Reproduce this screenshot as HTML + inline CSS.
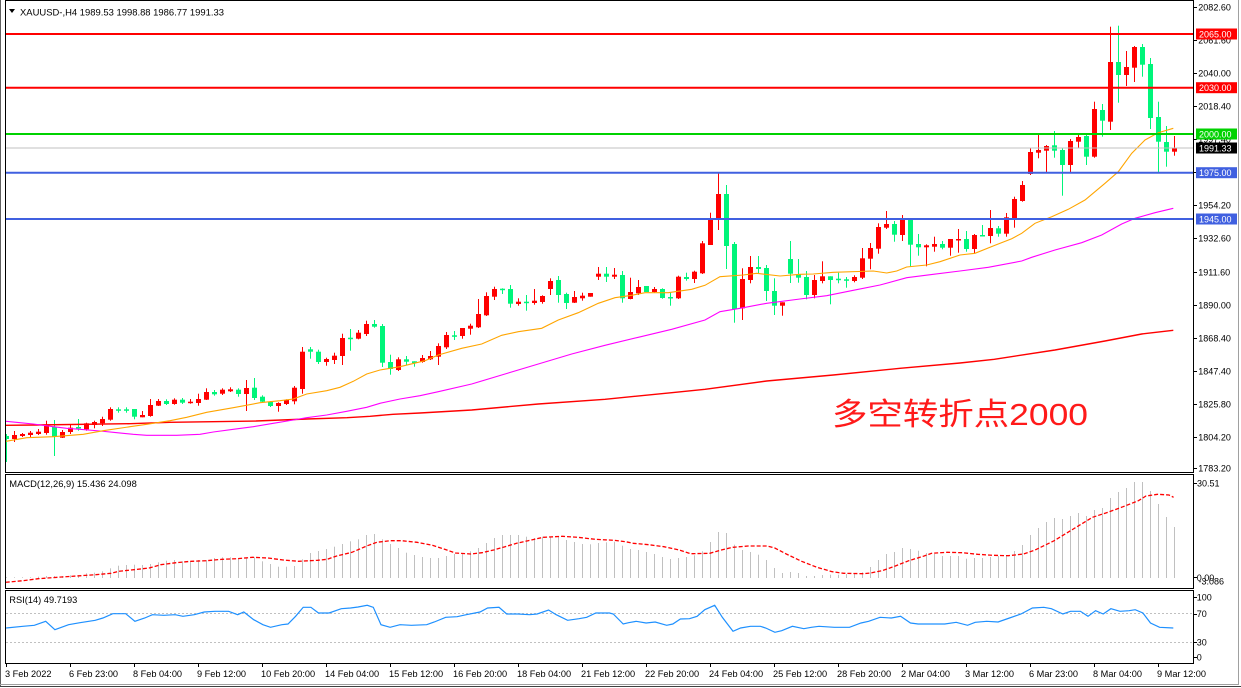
<!DOCTYPE html>
<html><head><meta charset="utf-8">
<style>
html,body{margin:0;padding:0;background:#fff;width:1241px;height:688px;overflow:hidden}
svg{position:absolute;left:0;top:0}
text{font-family:"Liberation Sans","Noto Sans CJK SC",sans-serif}
</style></head>
<body>
<svg id="s" width="1241" height="688" viewBox="0 0 1241 688" xmlns="http://www.w3.org/2000/svg">
<defs>
<clipPath id="cm"><rect x="6" y="1" width="1187" height="471"/></clipPath>
<clipPath id="cmacd"><rect x="6" y="475" width="1187" height="113"/></clipPath>
<clipPath id="crsi"><rect x="6" y="591" width="1187" height="72"/></clipPath>
</defs>
<rect x="0" y="0" width="1241" height="688" fill="#fff"/>
<!-- outer frame -->
<line x1="0.5" y1="0" x2="0.5" y2="686" stroke="#606060"/>
<line x1="1238.5" y1="0" x2="1238.5" y2="685" stroke="#a0a0a0"/>
<line x1="0" y1="684.5" x2="1239" y2="684.5" stroke="#a0a0a0"/>
<line x1="0" y1="686.5" x2="1241" y2="686.5" stroke="#404040"/>

<!-- RSI grid -->
<line x1="6" y1="613.5" x2="1193" y2="613.5" stroke="#c0c0c0" stroke-dasharray="2 2"/>
<line x1="6" y1="642.5" x2="1193" y2="642.5" stroke="#c0c0c0" stroke-dasharray="2 2"/>

<g id="dyn"></g>

<!-- horizontal levels -->
<g clip-path="url(#cm)">
<line x1="5" y1="148" x2="1193" y2="148" stroke="#c0c0c0" stroke-width="1"/>
<line x1="5" y1="34" x2="1193" y2="34" stroke="#ff0000" stroke-width="2"/>
<line x1="5" y1="87.7" x2="1193" y2="87.7" stroke="#ff0000" stroke-width="2"/>
<line x1="5" y1="134" x2="1193" y2="134" stroke="#00d200" stroke-width="2"/>
<line x1="5" y1="172.7" x2="1193" y2="172.7" stroke="#4060e0" stroke-width="2"/>
<line x1="5" y1="219" x2="1193" y2="219" stroke="#4060e0" stroke-width="2"/>
</g>

<!-- panels -->
<rect x="5.5" y="0.5" width="1188" height="472" fill="none" stroke="#000"/>
<rect x="5.5" y="474.5" width="1188" height="114" fill="none" stroke="#000"/>
<rect x="5.5" y="590.5" width="1188" height="73" fill="none" stroke="#000"/>

<!-- header -->
<polygon points="9,9 15,9 12,13" fill="#000"/>
<text x="20" y="15.5" font-size="9.3" textLength="204" lengthAdjust="spacingAndGlyphs">XAUUSD-,H4  1989.53 1998.88 1986.77 1991.33</text>
<text x="9.3" y="487" font-size="9.3" textLength="127.5" lengthAdjust="spacingAndGlyphs">MACD(12,26,9) 15.436 24.098</text>
<text x="9.3" y="603" font-size="9.3" textLength="68" lengthAdjust="spacingAndGlyphs">RSI(14) 49.7193</text>

<!-- chinese annotation -->
<text x="832" y="425" font-size="31" fill="#ff1a1a" textLength="256" lengthAdjust="spacingAndGlyphs">多空转折点2000</text>

<!-- right price axis -->
<g font-size="9" fill="#000" id="pax"></g>
<g id="ticks" stroke="#000"></g>

<!-- price boxes -->
<rect x="1196" y="28.5" width="41" height="11" fill="#ff0000"/>
<text x="1199" y="37.3" font-size="9" fill="#fff">2065.00</text>
<rect x="1196" y="82.2" width="41" height="11" fill="#ff0000"/>
<text x="1199" y="91" font-size="9" fill="#fff">2030.00</text>
<rect x="1196" y="128.5" width="41" height="11" fill="#00d200"/>
<text x="1199" y="137.3" font-size="9" fill="#fff">2000.00</text>
<rect x="1196" y="142.5" width="41" height="11" fill="#000"/>
<text x="1199" y="151.3" font-size="9" fill="#fff">1991.33</text>
<rect x="1196" y="167.2" width="41" height="11" fill="#4060e0"/>
<text x="1199" y="176" font-size="9" fill="#fff">1975.00</text>
<rect x="1196" y="213.5" width="41" height="11" fill="#4060e0"/>
<text x="1199" y="222.3" font-size="9" fill="#fff">1945.00</text>

<!-- MACD axis -->
<text x="1197" y="486.5" font-size="9">30.51</text>
<text x="1196.7" y="581" font-size="9">0.00</text>
<text x="1198.5" y="584.3" font-size="9">-3.086</text>
<!-- RSI axis -->
<text x="1196.7" y="600.3" font-size="9">100</text>
<text x="1196.7" y="617" font-size="9">70</text>
<text x="1196.7" y="645.5" font-size="9">30</text>
<text x="1196.7" y="660.5" font-size="9">0</text>

<g id="tax" font-size="9.2"></g>
</svg>
<script>
(function(){
var NS='http://www.w3.org/2000/svg';
function el(p,tag,a,txt){var e=document.createElementNS(NS,tag);for(var k in a)e.setAttribute(k,a[k]);if(txt!==undefined)e.textContent=txt;p.appendChild(e);return e;}
var dyn=document.getElementById('dyn');
var D=`g 436 439 434 462
r 435 439 431 442
r 434 436 433 437
r 432.7 435 431 437
r 431.7 434 429 435
r 425 433 420.7 434.7
g 427 436.7 420 456
r 432 437.7 430 438
r 427.7 432 425 434
g 427 428.3 419 430.7
r 423.3 429.3 422.7 430.7
r 422 425 420.7 428.3
r 419 423.3 416.7 426
r 409 419.7 407.3 420.7
g 409.3 410.3 407.3 412.7
g 409.3 410.3 407.3 412.7
g 409 416.7 409 419.3
r 415 417.3 411 417.3
r 405 416 399 416.7
r 401 405.7 399 406
g 401 404 399.3 405
r 399.7 404 398.3 404.7
g 399.7 402.7 398 404
r 401.7 402.7 399 403.7
r 399 403 393.7 405.7
r 392 399.7 388.3 400
g 392 394.3 390 395.7
r 389.7 393.7 388.3 395
r 389.3 391.3 387.3 392
g 389.7 394 388.3 396.7
r 388 394 380 411
g 387.7 398 378 400
g 396.7 401.7 395.3 402.7
g 401.7 406 401 407
r 403 406 402.3 411.7
r 400 404 399.3 405
r 387.7 401.3 386 404.3
r 351.7 389 347 393.7
g 349.3 351.7 347 358.7
g 351.7 362 349.7 364
r 359 362 357.7 365.7
r 355.7 360 352.7 364
r 338 356 333.7 365
g 337.7 339 329 350.7
r 332.7 338.7 330 339.3
r 324 334 320.7 336
g 324 326.7 320 327.7
g 326 362.7 324 367
g 362 369 354.7 374.7
r 359.3 370 357.3 371
g 359.3 361.7 356 365.3
g 361.3 363 361.3 366.7
r 358 362 355 362.7
r 356 359.3 351 360
r 346 356.7 343.3 365
r 335 347.3 332 349
g 335.3 336.3 331 340
r 328 336 328 338.7
r 325.7 328.7 323.7 334.7
r 314 327.3 299 328
r 296 315.3 292.3 316
r 289 296.7 286.7 300
g 288.7 290 288.3 294
g 289 303.7 285 307.7
r 301.7 304 298.3 305.7
g 301.7 302.7 295 310.7
r 300.7 303 289 304.7
r 296 302 295.3 303.7
r 281 289 278.3 295
g 280 295 276 302.7
g 294 303 292.7 309
r 297 302.7 291 303
r 295.7 298.3 292.7 300.7
r 293 296.7 293 296.7
r 273.7 276.7 267 280
g 273.7 276.7 267 282
r 274.7 276.7 268 279
g 275 298.3 271 302.7
r 292 299 277.7 299.3
r 287 293.3 280 295
g 286 292 286 292
r 289 292 287 292.7
g 289 298 288.3 298.7
g 297 298 292.3 305.7
r 276.7 298.3 275.7 299
g 277 279 272.7 280.7
r 271.7 279 270.7 283
r 243.3 273.3 241 274
r 220 245 212.7 245
r 194 218.3 173.3 230
g 194 246 185 269
g 244 309 242 322.7
r 279 308.3 268.3 320
r 267 280 256 283.3
g 267 269 256 273.3
g 268 291 265 301
g 291 305.7 278.3 315
r 302.3 305.7 302.3 315.7
g 259 273.7 241 283
g 274 277.7 259 282.7
g 277 295 271 299.3
r 280 295 275 298.3
r 276.3 281 261.3 283.3
g 276.3 280 276.3 304.3
g 278.7 280 272.7 283.3
g 279.3 280.7 277 287.7
r 277 281 275.3 282.3
r 258.3 277.7 248 279
r 248 258.7 243 269.3
r 227 248.7 223.3 253.7
r 224 227.7 211 229
g 224 234.7 221 241.7
r 219.3 235 215 241
g 219.3 244.7 218.3 266.7
g 244 247.3 234 255.7
r 245.3 247.3 244.3 266.3
r 244 246.7 236.7 251.7
g 244 247.7 241 249.3
r 239 247.7 239 255.7
r 239 240 229 252.7
g 239 249 231 251.7
r 235 249 234 253.3
g 235 236 225 236
r 228 236 210 243.3
g 228.3 233.7 226 236.7
r 217.3 233.7 213 236.7
r 199 218.7 196.7 227.7
r 185 201 181 201.7
r 152 174 147.7 175
r 150 152.7 134.7 158.3
r 146 150.7 145 172.7
g 145.3 150.7 131 157.7
g 150 165 148.3 195.7
r 141 165 139 172.7
r 137 141.7 134 147.7
g 136 156.7 134 165
r 109 156.7 101.7 157.7
g 110 120.7 104 136.7
r 62 121.7 26.7 130
g 62 75 25.7 102.7
r 67 75 51 86
r 47 67.7 46 82
g 47 64.7 44 76.7
g 64 118 58 129
g 117 141.7 101.7 172.7
g 142 151.7 126 166.7
r 148 151.7 136 155.7`.split('\n');
var gm=el(dyn,'g',{'clip-path':'url(#cm)'});
for(var i=0;i<D.length;i++){
  var p=D[i].trim().split(/\s+/);var col=p[0]=='r'?'#ff0000':'#00f57a';
  var t=+p[1],b=+p[2],h=+p[3],l=+p[4];var cx=6+8*i;
  el(gm,'rect',{x:cx,y:h,width:1,height:Math.max(1,l-h),fill:col});
  el(gm,'rect',{x:cx-2,y:t,width:5,height:Math.max(1.5,b-t),fill:col});
}
function pl(parent,pts,st,w,dash){var s=pts.map(function(q){return q[0].toFixed(1)+','+q[1].toFixed(1)}).join(' ');var a={points:s,fill:'none',stroke:st,'stroke-width':w};if(dash)a['stroke-dasharray']=dash;return el(parent,'polyline',a);}
var OR=[[6,441.3],[26.7,437.7],[53.3,436.7],[83.3,434.3],[103.3,430.7],[130,426.7],[146.7,424.3],[170,420.7],[186.7,417.3],[206.7,412.3],[233.3,407.7],[260,402.7],[280,400.7],[293.3,399],[306.7,394],[326.7,390.7],[340,387.3],[353.3,381.3],[366.7,374],[380,370],[400,366.7],[425,360.7],[438.3,355],[461.7,348.3],[481.7,344],[501.7,335.3],[518.3,331.7],[541.7,328.3],[558.3,320],[578.3,312.7],[598.3,303.3],[615,297.7],[631.7,295.3],[645,292.7],[668.3,292.7],[691.7,289.3],[705,285.3],[720,276.7],[743.3,275],[756.7,273.3],[780,276],[800,274.3],[813.3,274],[833.3,272.3],[873.3,271],[886.7,273],[896.7,271],[906.7,267],[926.7,265],[940,261.7],[960,255],[975,253.3],[995,245.3],[1011.7,238.7],[1021.7,233.3],[1035,223.3],[1051.7,216.7],[1068.3,209.3],[1085,200],[1095,191.7],[1105,183.3],[1118.3,171.7],[1131.7,153.3],[1145,140],[1158.3,132.7],[1173.3,128.3]];
var MG=[[6,421.3],[20,422.7],[33.3,424],[53.3,426.7],[66.7,428.3],[80,429.3],[100,431],[113.3,432.3],[133.3,434.3],[146.7,435.3],[176.7,435.3],[200,434.3],[213.3,432],[233.3,429.3],[253.3,426.7],[273.3,423.3],[293.3,420],[306.7,417.7],[326.7,415],[346.7,411.3],[366.7,407.3],[380,403.3],[400,399],[420,395.7],[438.3,391.7],[471.7,384],[505,374],[538.3,364],[571.7,354],[605,345.3],[638.3,337.3],[671.7,329.3],[705,320],[720,311.7],[740,308.3],[766.7,303.3],[800,299],[826.7,295.7],[853.3,290.3],[880,285],[906.7,277.7],[933.3,274.3],[960,271],[988.3,267.3],[1021.7,261],[1031.7,257.3],[1055,250],[1081.7,242.7],[1101.7,235],[1121.7,224],[1135,218.3],[1155,212.7],[1173.3,208.3]];
var RD=[[6,425.3],[35,425],[130,423.7],[170,422.3],[256,421],[307,419],[347,417.7],[370,416.3],[393,414.3],[420,413],[471.7,410],[538.3,404],[605,399.3],[671.7,392.7],[705,389.3],[766.7,381],[833.3,375],[900,368.3],[960,363],[994.3,359.3],[1055,350],[1105,341],[1141.7,334],[1173.3,330.3]];
pl(gm,RD,'#ff0000',1.4);
pl(gm,MG,'#ff00ff',1.1);
pl(gm,OR,'#ffa500',1.1);
// MACD
var gmacd=el(dyn,'g',{'clip-path':'url(#cmacd)'});
var H=[310,310,310,310,308,306,306,306,304,304,298,296,292,283,275,273,272,273,270,265,260,258,262,262,258,258,252,250,250,252,250,250,262,270,278,278,276,256,237,231,225,218,210,202,196,183,180,196,210,222,236,243,249,252,252,246,240,240,232,222,207,192,183,183,183,188,192,188,188,188,198,204,210,211,
207,205,203,215,225,228,234,240,249,255,252,249,244,232,204,174,177,212,228,234,242,258,282,297,294,297,306,306,303,302,302,300,298,295,279,258,240,234,222,225,230,237,240,246,246,246,254,252,252,249,246,243,231,213,183,162,144,132,135,126,117,126,108,102,72,54,42,24,24,51,90,129,159];
for(var j=0;j<H.length;j++){var y=474+H[j]/3;var cx=6+8*j;el(gmacd,'rect',{x:cx,y:y.toFixed(1),width:1,height:Math.max(0.6,578-y).toFixed(1),fill:'#c0c0c0'});}
var S1=[[15,325],[60,320],[100,314],[150,310],[200,306],[250,302],[290,298],[310,292],[350,287],[390,282],[420,272],[460,266],[500,262],[540,260],[580,256],[620,254],[660,250],[700,252],[740,258],[780,262],[830,259],[855,256],[880,246],[920,235],[960,215],[985,205],[1020,200],[1050,200],[1090,205],[1130,214],[1160,225],[1190,237],[1230,240],[1260,236],[1290,228],[1320,218],[1350,208],[1380,200],[1420,190],[1470,187],[1510,190],[1568,196]];
var S2=[[0,196],[50,199],[80,203],[100,208],[140,212],[180,218],[220,228],[250,239],[300,238],[330,228],[360,220],[400,216],[450,216],[470,222],[500,240],[540,262],[580,280],[620,293],[650,298],[700,299],[720,297],[750,290],[780,278],[820,260],[860,246],[880,238],[920,235],[960,236],[1000,241],[1040,244],[1080,245],[1120,240],[1150,228],[1200,200],[1250,165],[1300,130],[1340,115],[1380,98],[1420,80],[1440,66],[1470,61],[1500,63],[1512,70]];
var SG=[];S1.forEach(function(q){var x=q[0]/2.6133;if(x<597)SG.push([x,474+q[1]/3]);});S2.forEach(function(q){SG.push([595+q[0]/2.6133,474+q[1]/3]);});
pl(gmacd,SG,'#ff0000',1.3,'4 2');
// RSI
var grsi=el(dyn,'g',{'clip-path':'url(#crsi)'});
var R=[[8,120],[30,115],[45,112],[60,100],[72,125],[90,110],[105,104],[125,97],[135,90],[148,77],[165,77],[177,100],[190,90],[200,80],[215,82],[230,80],[240,85],[255,80],[268,72],[282,70],[300,70],[312,80],[320,72],[333,95],[345,110],[355,118],[370,110],[378,108],[388,85],[398,58],[408,58],[418,75],[432,75],[448,62],[460,60],[470,57],[482,52],[490,58],[500,110],[512,118],[525,110],[540,112],[560,110],[570,102],[585,88],[600,86],[612,80],[630,72],[640,60],[655,58],[665,78],[680,78],[695,80],[705,78],[720,66],[730,80],[745,97],[760,92],[770,88],[782,75],[800,75],[805,78],[818,108],[825,104],[835,100],[848,105],[860,102],[875,112],[883,108],[893,93],[905,92],[915,85],[925,65],[938,52],[948,88],[962,130],[972,120],[985,115],[998,115],[1005,120],[1017,133],[1026,128],[1040,115],[1055,122],[1065,118],[1075,115],[1095,118],[1115,118],[1130,105],[1140,100],[1155,88],[1170,90],[1182,85],[1195,105],[1205,108],[1240,108],[1255,103],[1270,112],[1280,103],[1295,100],[1310,102],[1325,90],[1340,78],[1355,60],[1370,58],[1380,62],[1395,78],[1405,70],[1418,70],[1428,85],[1438,68],[1448,78],[1458,62],[1470,70],[1482,68],[1490,65],[1500,75],[1510,105],[1522,118],[1540,120]];
pl(grsi,R.map(function(q){return [q[0]/1.3125,588+q[1]/3];}),'#1e90ff',1.2);
// price axis
var pax=document.getElementById('pax'),tk=document.getElementById('ticks');
var PL=[['2082.60',7],['2061.60',40],['2040.00',73],['2018.40',106.3],['1997.40',139],['1975.80',172],['1954.20',205],['1932.60',238],['1911.60',272],['1890.00',305],['1868.40',338],['1847.40',371],['1825.80',404],['1804.20',437],['1783.20',468]];
PL.forEach(function(q){el(pax,'text',{x:1198.3,y:(q[1]+3.3).toFixed(1)},q[0]);el(tk,'line',{x1:1193,x2:1197,y1:Math.round(q[1])+0.5,y2:Math.round(q[1])+0.5});});
[483,577,597,613.5,642,657].forEach(function(y){el(tk,'line',{x1:1193,x2:1197,y1:Math.round(y)+0.5,y2:Math.round(y)+0.5});});
// time axis
var TL=['3 Feb 2022','6 Feb 23:00','8 Feb 04:00','9 Feb 12:00','10 Feb 20:00','14 Feb 04:00','15 Feb 12:00','16 Feb 20:00','18 Feb 04:00','21 Feb 12:00','22 Feb 20:00','24 Feb 04:00','25 Feb 12:00','28 Feb 20:00','2 Mar 04:00','3 Mar 12:00','6 Mar 23:00','8 Mar 04:00','9 Mar 12:00'];
var tax=document.getElementById('tax');
TL.forEach(function(s,k){var x=6+64*k;el(tk,'line',{x1:x+0.5,x2:x+0.5,y1:663,y2:667});el(tax,'text',{x:x-1,y:677},s);});
})();
</script>
</body></html>
